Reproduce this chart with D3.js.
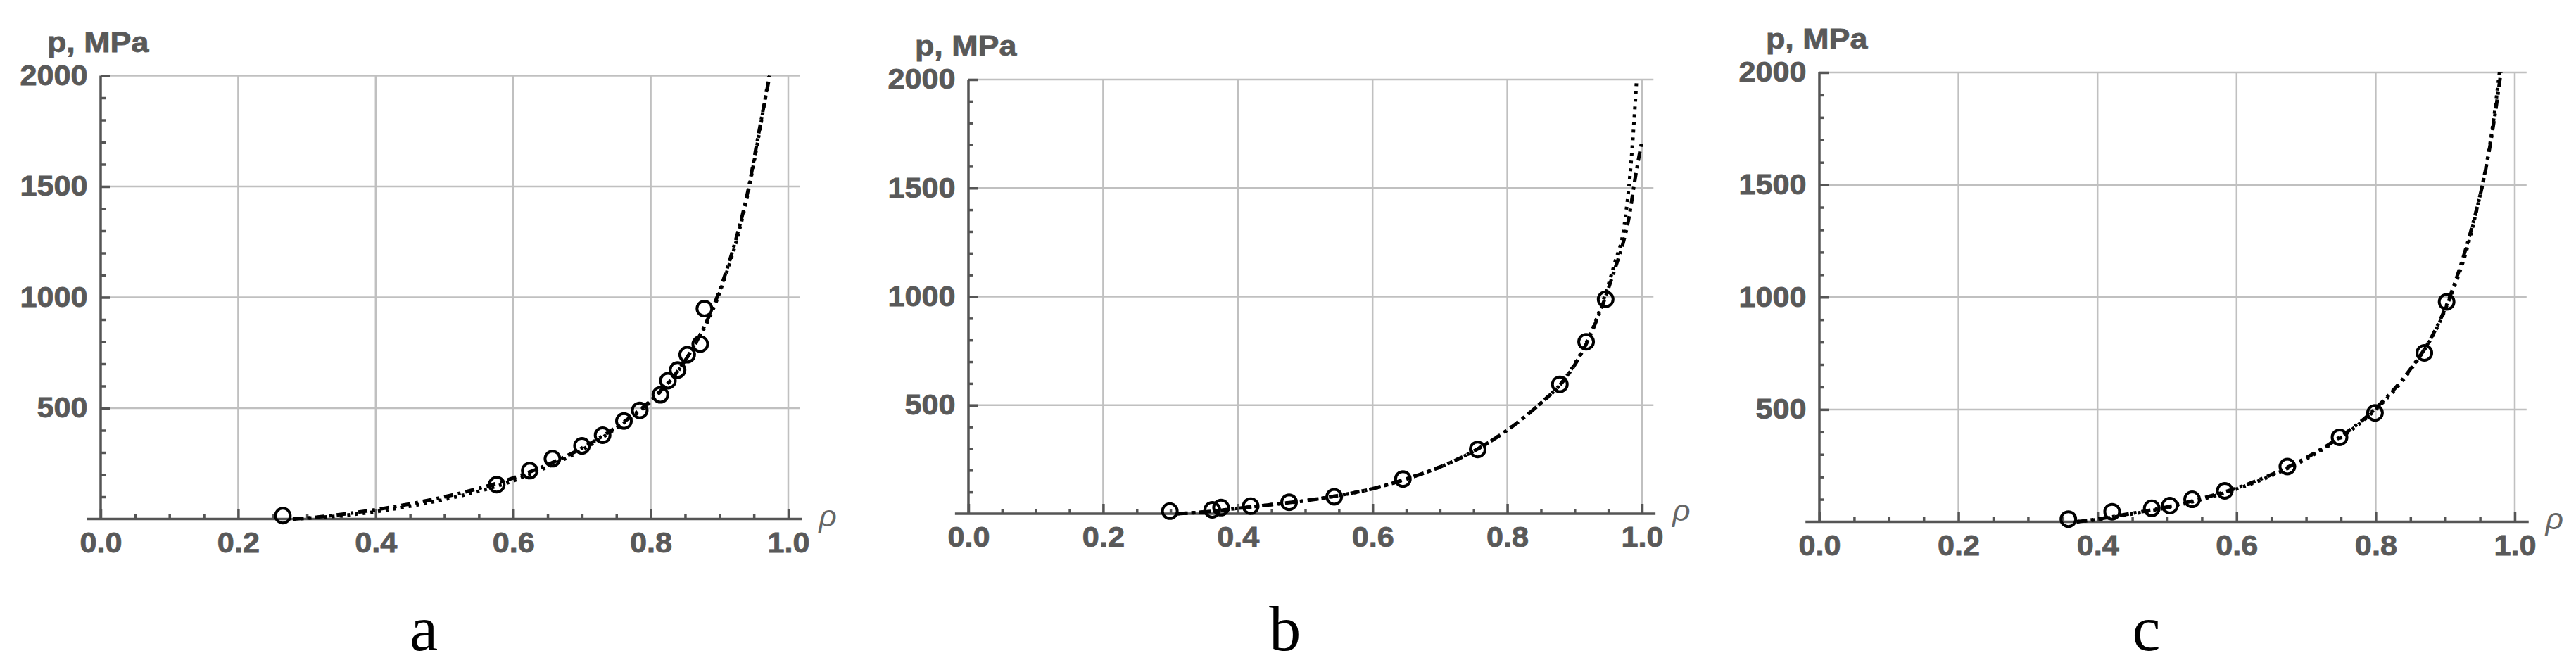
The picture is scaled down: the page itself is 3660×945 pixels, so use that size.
<!DOCTYPE html>
<html lang="en">
<head>
  <meta charset="UTF-8">
  <title>Pressure vs relative density – panels a, b, c</title>
  <script src="https://d3js.org/d3.v7.min.js"></script>
  <style>
    body {
      margin: 0;
      background: #fff;
    }

    svg {
      display: block;
    }

    .grid line {
      stroke: #c0c0c0;
      stroke-width: 2.5px;
    }

    .axis line,
    .axis-line {
      stroke: #555;
      stroke-width: 3.5px;
    }

    .tick-label {
      font-family: "Liberation Sans", Arial, sans-serif;
      font-weight: bold;
      font-size: 40px;
      fill: #595959;
      stroke: #595959;
      stroke-width: 0.8px;
    }

    .rho-label {
      font-family: "Liberation Sans", Arial, sans-serif;
      font-style: italic;
      font-size: 42px;
      fill: #666;
    }

    .fit-dash {
      fill: none;
      stroke: #000;
      stroke-width: 5px;
      stroke-dasharray: 13 7 4 7;
    }

    .fit-dot {
      fill: none;
      stroke: #000;
      stroke-width: 5px;
      stroke-dasharray: 4 7;
    }

    .pt {
      fill: none;
      stroke: #000;
      stroke-width: 4px;
    }

    .panel-name {
      font-family: "Liberation Serif", "Times New Roman", serif;
      font-size: 90px;
      fill: #000;
    }
  </style>
</head>
<body>

<div id="chart"></div>

<script>
  // ticks
  var xTicks = [0, 0.2, 0.4, 0.6, 0.8, 1.0];
  var yTicks = [500, 1000, 1500, 2000];
  var panelNames = ["a", "b", "c"];

  // panel a: measured points
  var rhoA = [0.265, 0.576, 0.624, 0.657, 0.700, 0.730, 0.761, 0.784, 0.814, 0.825, 0.839, 0.853, 0.872, 0.878];
  var pA = [15, 155, 218, 272, 330, 378, 442, 490, 560, 624, 672, 741, 789, 949];
  // panel a: dash-dot model
  var dashRhoA = [0.28, 0.32, 0.36, 0.40, 0.45, 0.50, 0.55, 0.60, 0.65, 0.70, 0.75, 0.80, 0.84, 0.87, 0.90, 0.92, 0.94, 0.96, 0.973];
  var dashPA = [0, 10, 25, 42, 68, 100, 138, 185, 245, 320, 415, 535, 670, 820, 1030, 1220, 1460, 1790, 2000];
  // panel a: dotted model
  var dotRhoA = [0.28, 0.35, 0.40, 0.45, 0.50, 0.55, 0.60, 0.65, 0.70, 0.75, 0.80, 0.85, 0.90, 0.94, 0.96, 0.972];
  var dotPA = [0, 15, 33, 58, 88, 125, 172, 235, 312, 410, 530, 715, 1020, 1450, 1780, 2000];

  // panel b
  var rhoB = [0.299, 0.362, 0.375, 0.419, 0.476, 0.543, 0.645, 0.756, 0.878, 0.917, 0.946];
  var pB = [12, 18, 28, 35, 53, 78, 160, 296, 596, 792, 988];
  var dashRhoB = [0.31, 0.35, 0.40, 0.45, 0.50, 0.55, 0.60, 0.65, 0.70, 0.75, 0.80, 0.85, 0.88, 0.90, 0.92, 0.94, 0.96, 0.973, 0.981, 0.989, 1.0];
  var dashPB = [0, 8, 25, 42, 60, 84, 115, 160, 215, 288, 385, 510, 600, 685, 800, 950, 1130, 1260, 1370, 1530, 1720];
  var dotRhoB = [0.31, 0.35, 0.40, 0.45, 0.50, 0.55, 0.60, 0.65, 0.70, 0.75, 0.80, 0.85, 0.88, 0.90, 0.92, 0.94, 0.96, 0.973, 0.985, 0.992];
  var dotPB = [0, 8, 25, 42, 60, 84, 115, 160, 215, 288, 385, 510, 600, 690, 805, 960, 1160, 1314, 1667, 2000];

  // panel c
  var rhoC = [0.358, 0.421, 0.478, 0.504, 0.536, 0.583, 0.673, 0.748, 0.799, 0.870, 0.902];
  var pC = [12, 45, 60, 72, 100, 138, 246, 376, 485, 752, 979];
  var dashRhoC = [0.37, 0.40, 0.45, 0.50, 0.55, 0.60, 0.65, 0.70, 0.75, 0.80, 0.85, 0.88, 0.90, 0.92, 0.94, 0.955, 0.97, 0.98];
  var dashPC = [0, 12, 38, 66, 104, 150, 210, 285, 380, 505, 680, 820, 950, 1120, 1330, 1520, 1780, 2000];
  var dotRhoC = [0.37, 0.40, 0.45, 0.50, 0.55, 0.60, 0.65, 0.70, 0.75, 0.80, 0.85, 0.90, 0.94, 0.97, 0.978];
  var dotPC = [0, 10, 35, 63, 100, 146, 205, 280, 375, 500, 675, 945, 1320, 1800, 2000];

  var width = 3660;
  var height = 945;

  var svg = d3.select("#chart")
    .append("svg")
    .attr("width", width)
    .attr("height", height);

  // where each panel sits on the page
  var frames = [
    {left: 143, right: 1120, bottom: 737.5, top: 107.5},
    {left: 1376, right: 2333, bottom: 730, top: 113},
    {left: 2585, right: 3573, bottom: 741.5, top: 103}
  ];

  var panels = [
    {name: panelNames[0], rho: rhoA, p: pA, dashRho: dashRhoA, dashP: dashPA, dotRho: dotRhoA, dotP: dotPA},
    {name: panelNames[1], rho: rhoB, p: pB, dashRho: dashRhoB, dashP: dashPB, dotRho: dotRhoB, dotP: dotPB},
    {name: panelNames[2], rho: rhoC, p: pC, dashRho: dashRhoC, dashP: dashPC, dotRho: dotRhoC, dotP: dotPC}
  ];

  var xMinor = d3.range(1, 20).map(i => i / 20).filter(v => Math.round(v * 20) % 4 !== 0);
  var yMinor = d3.range(100, 2000, 100).filter(v => v % 500 !== 0);

  panels.forEach(function(d, i) {
    drawPanel(d, frames[i]);
  });

  function drawPanel(d, f) {
    var x = d3.scaleLinear().domain([0, 1]).range([f.left, f.right]);
    var y = d3.scaleLinear().domain([0, 2000]).range([f.bottom, f.top]);
    var g = svg.append("g");

    // grid
    var grid = g.append("g").attr("class", "grid");
    grid.selectAll(".gv")
      .data(xTicks.filter(v => v > 0))
      .enter().append("line")
      .attr("x1", v => x(v)).attr("x2", v => x(v))
      .attr("y1", y(0)).attr("y2", y(2000));
    grid.selectAll(".gh")
      .data(yTicks)
      .enter().append("line")
      .attr("x1", x(0)).attr("x2", x(1.017))
      .attr("y1", v => y(v)).attr("y2", v => y(v));

    // axis lines
    g.append("line").attr("class", "axis-line")
      .attr("x1", x(-0.02)).attr("x2", x(1.02))
      .attr("y1", y(0)).attr("y2", y(0));
    g.append("line").attr("class", "axis-line")
      .attr("x1", x(0)).attr("x2", x(0))
      .attr("y1", y(0)).attr("y2", y(2000));

    // minor ticks
    g.append("g").attr("class", "axis")
      .attr("transform", "translate(0," + y(0) + ")")
      .call(d3.axisBottom(x).tickValues(xMinor).tickSize(-7).tickFormat(""))
      .select(".domain").remove();
    g.append("g").attr("class", "axis")
      .attr("transform", "translate(" + x(0) + ",0)")
      .call(d3.axisLeft(y).tickValues(yMinor).tickSize(-7).tickFormat(""))
      .select(".domain").remove();

    // major ticks + labels
    var xa = g.append("g").attr("class", "axis")
      .attr("transform", "translate(0," + y(0) + ")")
      .call(d3.axisBottom(x).tickValues(xTicks).tickSizeInner(-14).tickSizeOuter(0)
        .tickPadding(19).tickFormat(d3.format(".1f")));
    xa.select(".domain").remove();
    xa.selectAll("text").attr("class", "tick-label").attr("transform", "scale(1.08,1)");

    var ya = g.append("g").attr("class", "axis")
      .attr("transform", "translate(" + x(0) + ",0)")
      .call(d3.axisLeft(y).tickValues(yTicks).tickSizeInner(-13).tickSizeOuter(0)
        .tickPadding(17).tickFormat(d3.format("d")));
    ya.select(".domain").remove();
    ya.selectAll("text").attr("class", "tick-label").attr("transform", "scale(1.08,1)");

    // axis titles
    g.append("text").attr("class", "tick-label")
      .attr("transform", "translate(" + (x(0) - 76) + "," + (y(2000) - 34) + ") scale(1.12,1)")
      .text("p, MPa");
    g.append("text").attr("class", "rho-label")
      .attr("transform", "translate(" + (x(1.02) + 24) + "," + (y(0) + 10) + ") scale(1.05,1)")
      .text("ρ");

    // model curves
    var line = d3.line()
      .x(e => x(e[0]))
      .y(e => y(e[1]))
      .curve(d3.curveMonotoneX);

    g.append("path").attr("class", "fit-dot")
      .attr("d", line(d.dotRho.map((r, k) => [r, d.dotP[k]])));
    g.append("path").attr("class", "fit-dash")
      .attr("d", line(d.dashRho.map((r, k) => [r, d.dashP[k]])));

    // measured points
    g.selectAll(".pt")
      .data(d.rho.map((r, k) => [r, d.p[k]]))
      .enter().append("circle")
      .attr("class", "pt")
      .attr("cx", e => x(e[0]))
      .attr("cy", e => y(e[1]))
      .attr("r", 10.5);

    // panel letter
    g.append("text").attr("class", "panel-name")
      .attr("x", x(0.47))
      .attr("y", 924)
      .attr("text-anchor", "middle")
      .text(d.name);
  }
</script>
</body>
</html>
